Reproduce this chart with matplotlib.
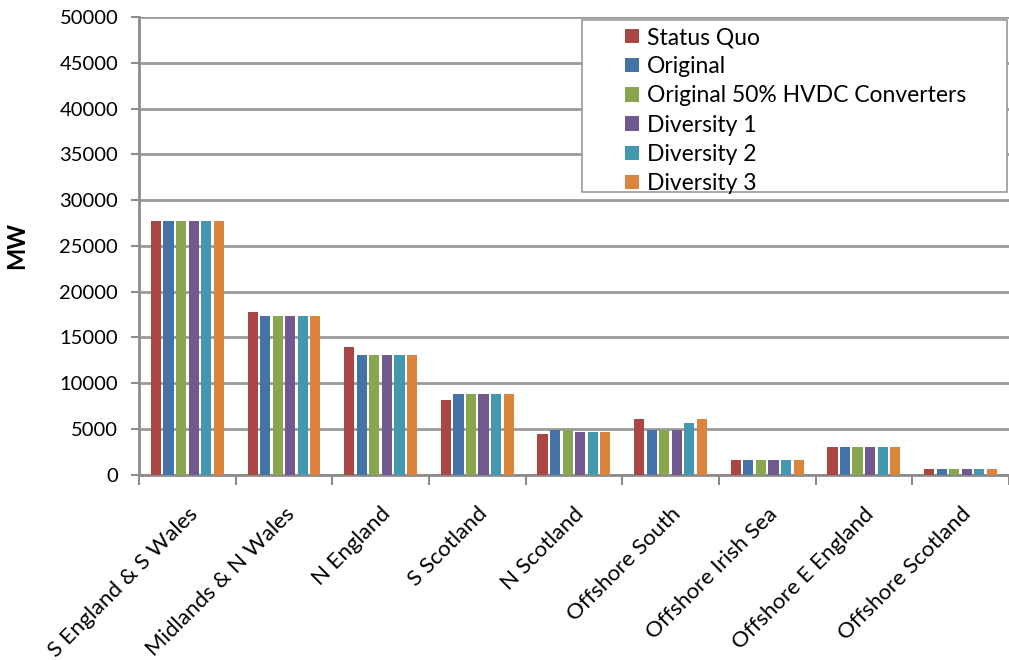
import matplotlib.pyplot as plt
from matplotlib.patches import Rectangle
import numpy as np

# regions and scenarios
regions = ['S England & S Wales', 'Midlands & N Wales', 'N England', 'S Scotland',
           'N Scotland', 'Offshore South', 'Offshore Irish Sea', 'Offshore E England',
           'Offshore Scotland']
series_names = ['Status Quo', 'Original', 'Original 50% HVDC Converters',
                'Diversity 1', 'Diversity 2', 'Diversity 3']

status_quo = [27700, 17800, 13900, 8200, 4400, 6050, 1600, 3000, 600]
original = [27700, 17300, 13050, 8800, 4850, 4850, 1600, 3000, 600]
original_50 = [27700, 17300, 13050, 8800, 4850, 4850, 1600, 3000, 600]
diversity_1 = [27700, 17300, 13050, 8800, 4650, 4850, 1600, 3000, 600]
diversity_2 = [27700, 17300, 13050, 8800, 4650, 5600, 1600, 3000, 600]
diversity_3 = [27700, 17300, 13050, 8800, 4650, 6050, 1600, 3000, 600]

colors = ['#AA4643', '#4572A7', '#89A54E', '#71588F', '#4198AF', '#DB843D']

plt.rcParams['font.family'] = ['Lato', 'DejaVu Sans']

fig = plt.figure(figsize=(10.09, 6.6), dpi=100)
ax = fig.add_axes([0.1378, 0.281, 0.862, 0.693])

all_series = [status_quo, original, original_50, diversity_1, diversity_2, diversity_3]
x = np.arange(len(regions))
step = 0.13
for i, vals in enumerate(all_series):
    ax.bar(x + (i - 2.5) * step, vals, width=0.105, color=colors[i],
           label=series_names[i], zorder=3)

ax.set_xlim(-0.5, len(regions) - 0.5)
ax.set_ylim(0, 50000)
ax.set_yticks(np.arange(0, 50001, 5000))
ax.tick_params(axis='y', labelsize=14.5, length=6, color='#8c8c8c', width=1.5, pad=9)
ax.yaxis.grid(True, color='#9a9a9a', linewidth=2, zorder=0)
ax.set_axisbelow(True)

# category ticks at the boundaries, labels at the centres
ax.set_xticks(np.arange(-0.5, len(regions)), minor=False)
ax.set_xticklabels([])
ax.set_xticks(x, minor=True)
ax.set_xticklabels(regions, minor=True, rotation=45, ha='right',
                   rotation_mode='anchor', fontsize=16)
ax.tick_params(axis='x', which='major', length=7, color='#8c8c8c', width=1.5)
ax.tick_params(axis='x', which='minor', length=0, pad=21)

for s in ['top', 'right']:
    ax.spines[s].set_visible(False)
for s in ['left', 'bottom']:
    ax.spines[s].set_color('#8c8c8c')
    ax.spines[s].set_linewidth(2)

ax.set_ylabel('MW', fontsize=17, fontweight='bold')
ax.yaxis.set_label_coords(-0.127, 0.5)

# legend without frame, box drawn separately (wide left padding)
leg = fig.legend(loc='upper left', bbox_to_anchor=(625 / 1009, 1 - 27 / 660),
                 fontsize=16.5, frameon=False,
                 handlelength=0.6, handleheight=0.6, handletextpad=0.35,
                 labelspacing=0.36, borderpad=0, borderaxespad=0)
fig.patches.append(Rectangle((582 / 1009, 1 - 192 / 660), 425 / 1009, 172 / 660,
                             transform=fig.transFigure, facecolor='white',
                             edgecolor='#9a9a9a', linewidth=1.2, zorder=4))
leg.set_zorder(5)

plt.savefig('out.png', dpi=100)
